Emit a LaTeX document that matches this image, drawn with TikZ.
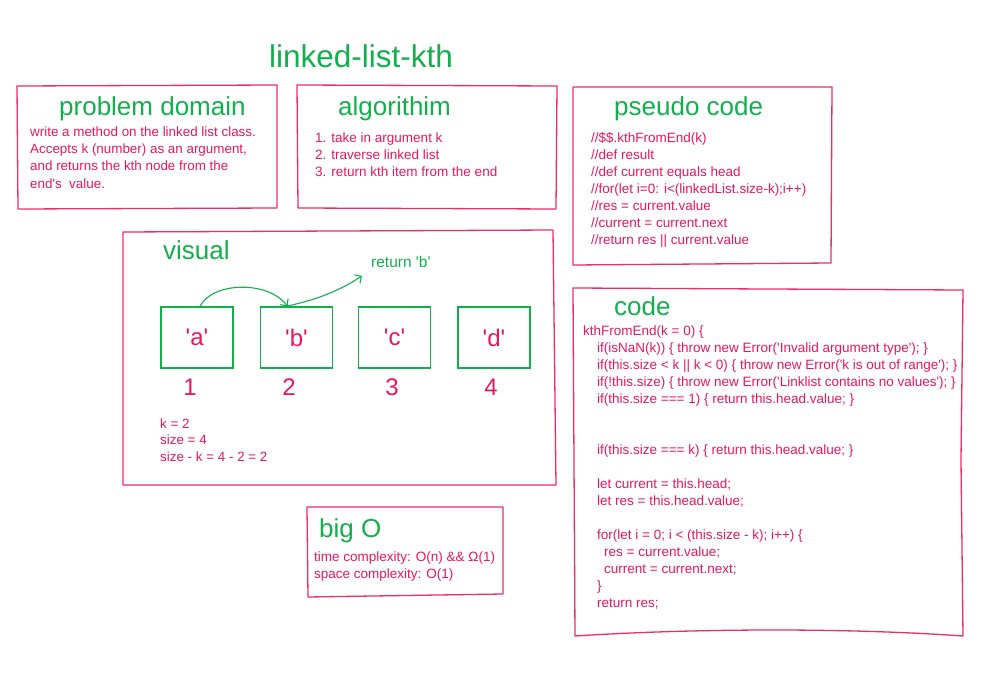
\documentclass[tikz,border=0pt]{standalone}
\usepackage{fontspec}
\setmainfont{Liberation Sans}[Ligatures=TeXOff]
\usetikzlibrary{arrows.meta,calc,positioning}
\definecolor{llInk}{HTML}{E8175D}
\definecolor{llFrame}{HTML}{EE2D64}
\definecolor{llGreen}{HTML}{12B04C}
\tikzset{
  ll frame/.style={draw=llFrame, line width=1.3pt, line join=round},
  ll cell/.style={
    draw=llGreen, line width=1.2pt,
    minimum width=72pt, minimum height=61pt, inner sep=0pt,
    text=llInk, font=\fontsize{24}{28}\selectfont
  },
  ll title/.style={inner sep=0pt, text=llGreen, font=\fontsize{31.5}{36}\selectfont},
  ll heading/.style={anchor=base west, inner sep=0pt, text=llGreen, font=\fontsize{26}{30}\selectfont},
  ll text/.style={anchor=north west, inner sep=0pt, align=left, text=llInk, font=\fontsize{13.5}{17}\selectfont},
  ll index/.style={inner sep=0pt, text=llInk, font=\fontsize{24}{28}\selectfont},
  ll note/.style={anchor=west, inner sep=0pt, text=llGreen, font=\fontsize{15.5}{18}\selectfont},
  ll link/.style={
    draw=llGreen,
    line width=1.1pt,
    line cap=round,
    -{Straight Barb[length=5pt,width=10pt]}
  }
}

\begin{document}
\begin{tikzpicture}[x=1pt,y=-1pt]
  \useasboundingbox (0,0) rectangle (989,677);

  % title
  \node[ll title] (title) at (361,56) {linked-list-kth};

  % problem domain
  \draw[ll frame] (17,86) -- (277,85) -- (277,208) -- (18,209) -- cycle;
  \node[ll heading] (probhead) at (59,116) {problem domain};
  \node[ll text, font=\fontsize{13.4}{17.3}\selectfont] (probtext) at (30,126.4)
    {write a method on the linked list class.\\
     Accepts k (number) as an argument,\\
     and returns the kth node from the\\
     end's\ \ value.};

  % algorithm
  \draw[ll frame] (297,85) -- (557,86) -- (556,209) -- (298,208) -- cycle;
  \node[ll heading] (algohead) at (338,116) {algorithim};
  \node[ll text] (algotext) at (315,132.4)
    {1. take in argument k\\
     2. traverse linked list\\
     3. return kth item from the end};

  % pseudo code
  \draw[ll frame] (573,87) -- (832,87) -- (831,263) -- (573,265) -- cycle;
  \node[ll heading] (pseudohead) at (614,116) {pseudo code};
  \node[ll text] (pseudotext) at (591,132.4)
    {//\$\$.kthFromEnd(k)\\
     //def result\\
     //def current equals head\\
     //for(let i=0: i<(linkedList.size-k);i++)\\
     //res = current.value\\
     //current = current.next\\
     //return res || current.value};

  % visual
  \draw[ll frame] (123,232) -- (553,230) -- (556,485) -- (123,485) -- cycle;
  \node[ll heading] (visualhead) at (163,259) {visual};
  \foreach \v/\n/\x/\i in {a/1/197/190, b/2/296.5/289, c/3/394.5/392, d/4/494/491} {
    \node[ll cell] (n\v) at (\x,337.5) {'\v'};
    \node[ll index] (i\v) at (\i,387) {\n};
  }
  \node[ll note] (ret) at (371,262) {return 'b'};
  \coordinate (tip) at ($(ret.south west)+(-9,8)$);
  \draw[ll link] ([xshift=3pt]na.north) .. controls (212,282) and (268,280) .. ([xshift=-9pt]nb.north);
  \draw[ll link] ([xshift=-11pt]nb.north) .. controls (312,301) and (338,292) .. (tip);
  \node[ll text, font=\fontsize{13.4}{16.5}\selectfont] (ktext) at (160,418.4)
    {k = 2\\
     size = 4\\
     size - k = 4 - 2 = 2};

  % big O
  \draw[ll frame] (307,507) -- (503,507) -- (503,594) -- (308,597) -- cycle;
  \node[ll heading] (bigohead) at (319,537) {big O};
  \node[ll text] (bigotext) at (314,551.4)
    {time complexity: O(n) \&\& Ω(1)\\
     space complexity: O(1)};

  % code
  \draw[ll frame] (573,288) -- (963,290) -- (961,460) -- (963,636)
    .. controls (850,628) and (700,628) .. (575,636) -- cycle;
  \node[ll heading] (codehead) at (614,315) {code};
  \node[ll text] (codetext) at (583,325.4)
    {kthFromEnd(k = 0) \{\\
     \hspace*{14pt}if(isNaN(k)) \{ throw new Error('Invalid argument type'); \}\\
     \hspace*{14pt}if(this.size < k || k < 0) \{ throw new Error('k is out of range'); \}\\
     \hspace*{14pt}if(!this.size) \{ throw new Error('Linklist contains no values'); \}\\
     \hspace*{14pt}if(this.size === 1) \{ return this.head.value; \}\\[34pt]
     \hspace*{14pt}if(this.size === k) \{ return this.head.value; \}\\[17pt]
     \hspace*{14pt}let current = this.head;\\
     \hspace*{14pt}let res = this.head.value;\\[17pt]
     \hspace*{14pt}for(let i = 0; i < (this.size - k); i++) \{\\
     \hspace*{21pt}res = current.value;\\
     \hspace*{21pt}current = current.next;\\
     \hspace*{14pt}\}\\
     \hspace*{14pt}return res;};
\end{tikzpicture}
\end{document}
